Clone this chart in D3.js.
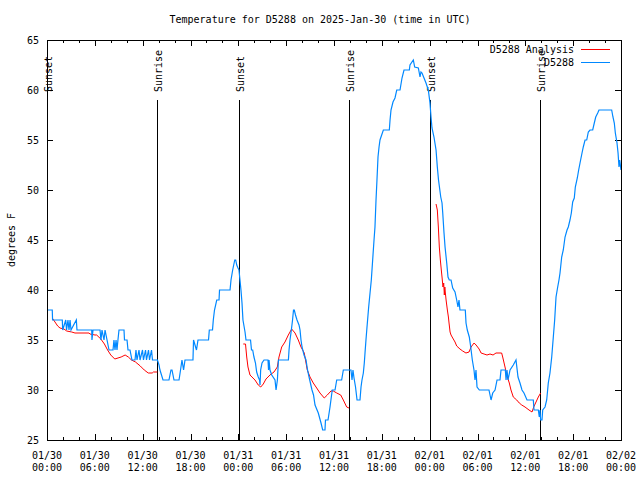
<!DOCTYPE html>
<html>
<head>
<meta charset="utf-8">
<script src="https://cdn.jsdelivr.net/npm/d3@7"></script>
<style>
  html, body { margin: 0; padding: 0; background: #fff; }
  svg { display: block; }
  text { font-family: "DejaVu Sans Mono", monospace; font-size: 10px; fill: #000; }
</style>
</head>
<body>
<svg id="chart" width="640" height="480"></svg>
<script>
// ---------------- DATA ----------------
const chartTitle = "Temperature for D5288 on 2025-Jan-30 (time in UTC)";
const yAxisLabel = "degrees F";
const startDateUTC = [2025, 0, 30];           // 2025-01-30 00:00 UTC
const spanHours = 72;
const yTickValues = [25, 30, 35, 40, 45, 50, 55, 60, 65];
const seriesNames = ["D5288 Analysis", "D5288"];
const seriesColors = ["#ff0000", "#0088ff"];

// sunrise / sunset markers (hours since start)
const sunEventHours = [0.0, 13.84, 24.07, 37.92, 48.08, 61.9];
const sunEventLabels = ["Sunset", "Sunrise", "Sunset", "Sunrise", "Sunset", "Sunrise"];

// Station observations D5288 (hours since start, °F)
const stationHours = [
  0, 0.66, 0.7, 1.92, 1.97, 2.35, 2.45, 2.63, 2.76, 2.89, 3.01, 3.68, 3.76, 5.61, 5.64, 5.77,
  6.65, 6.77, 6.9, 7.15, 7.28, 7.53, 7.78, 8.28, 8.4, 8.53, 8.66, 8.78, 8.9, 9.03, 9.66, 9.72,
  10.04, 10.16, 10.41, 10.66, 11.04, 11.16, 11.29, 11.54, 11.67, 11.98, 12.1, 12.36, 12.48,
  12.73, 12.86, 13.11, 13.23, 13.86, 14.05, 14.17, 14.55, 15.3, 15.55, 15.68, 15.93, 16.56,
  16.75, 16.93, 17.13, 17.31, 18.31, 18.38, 18.75, 18.94, 20.26, 20.36, 20.76, 20.86, 21.01,
  21.29, 21.58, 21.64, 22.96, 23.08, 23.29, 23.55, 23.67, 23.8, 23.96, 24.08, 24.33, 24.46,
  24.58, 24.84, 24.96, 25.53, 25.65, 25.8, 25.96, 26.15, 26.3, 26.5, 26.66, 26.72, 26.8, 26.97,
  27.22, 27.72, 27.79, 27.85, 27.97, 28.19, 28.6, 28.73, 28.9, 29.03, 30.28, 30.36, 30.48,
  30.65, 30.8, 30.92, 31.02, 31.17, 31.36, 31.61, 31.74, 31.86, 31.99, 32.24, 32.49, 32.68,
  32.87, 33.24, 33.43, 33.62, 34.03, 34.37, 34.58, 34.87, 34.93, 35.25, 35.5, 35.78, 36.13,
  36.34, 36.96, 37.17, 38.13, 38.26, 38.38, 38.51, 38.7, 38.89, 39.26, 39.39, 39.51, 39.68,
  39.8, 39.89, 40.01, 40.14, 40.35, 40.52, 40.68, 40.85, 41.02, 41.14, 41.27, 41.39, 41.52,
  41.65, 41.77, 41.98, 42.19, 42.94, 43.03, 43.15, 43.4, 43.65, 43.87, 44.28, 44.53, 44.78,
  45.45, 45.53, 45.95, 46.12, 46.58, 46.79, 46.91, 47.04, 47.29, 47.54, 47.83, 48.04, 48.17,
  48.29, 48.54, 48.8, 48.96, 49.11, 49.39, 49.55, 49.64, 49.8, 49.93, 50.14, 50.3, 50.46,
  50.68, 50.89, 51.18, 51.39, 51.55, 51.68, 51.8, 52.47, 52.56, 52.72, 52.97, 53.15, 53.35,
  53.56, 53.69, 53.81, 53.94, 54.23, 55.44, 55.7, 55.91, 56.2, 56.45, 56.82, 56.95, 57.49,
  57.58, 57.7, 57.83, 58.08, 58.49, 58.83, 59.08, 59.33, 59.58, 59.83, 60.21, 61.0, 61.09,
  61.63, 61.75, 61.84, 61.92, 62.09, 62.18, 62.47, 62.68, 62.88, 63.09, 63.31, 63.51, 63.68,
  63.85, 64.06, 64.22, 64.35, 64.56, 64.76, 64.98, 65.23, 65.39, 65.6, 65.77, 65.94, 66.14,
  66.27, 66.52, 66.69, 66.86, 67.11, 67.27, 67.49, 67.7, 67.9, 68.11, 68.45, 68.65, 68.83,
  69.08, 69.24, 70.83, 70.99, 71.16, 71.29, 71.5, 71.63, 71.75, 71.84, 72
];
const stationTemps = [
  38, 38, 37, 37, 36, 37, 36, 37, 36, 37, 36, 37, 36, 36, 35, 36,
  36, 35, 36, 35, 36, 35, 34, 34, 35, 34, 35, 34, 35, 36, 36, 35,
  35, 34, 34, 33, 33, 34, 33, 34, 33, 34, 33, 34, 33,
  34, 33, 34, 33, 33, 32.5, 32, 31, 31, 32, 32, 31, 31,
  32, 33, 32, 33, 33, 35, 34, 35, 35, 36, 36, 37, 38,
  39, 39, 40, 40, 41, 42, 43, 43, 42.5, 42.2, 42, 40, 38.7,
  37, 35.8, 35, 35, 34, 34, 33.3, 32.7, 31.8, 31.3, 31, 30.5, 32, 32.7,
  33, 33, 32, 33, 32, 31.5, 31, 30, 31, 33, 33, 34, 35,
  36, 37, 38, 38, 37.5, 37, 36.5, 36, 35, 34.3, 33.5, 33, 32,
  31.3, 30, 29.5, 28.5, 27.7, 26.7, 26, 26, 27, 27, 28.3, 30, 30,
  31, 31, 32, 32, 31, 32, 31.2, 30.3, 29, 29, 30.3, 31, 31.7,
  32.7, 33.7, 35, 36.3, 38.3, 39.7, 41, 43, 45, 46.3, 49, 51, 53.3,
  54.3, 55, 55.5, 56, 56, 57, 58, 58.8, 59.2, 60, 60, 61.2, 62,
  62, 62.5, 63, 62.3, 62.2, 61.3, 61.8, 61.7, 61.2, 60.7, 60, 58.7, 57.3,
  56.2, 55.3, 54, 52.3, 51, 49.3, 48.7, 47.7, 45.7, 44.3, 42.7, 41.3, 41,
  41, 40.2, 39.8, 39, 38.3, 39, 38, 38, 36.7, 36, 35.3, 34.3, 33,
  32, 31, 32, 30.3, 30, 30, 29, 29.7, 30, 31, 31, 32, 32,
  31, 32, 31, 32, 32.5, 33, 31.3, 30.7, 30, 29.7, 29, 29, 28,
  28, 27.3, 28, 27, 27, 28, 28.3, 29, 30.7, 31.7, 33.3, 35.3, 37,
  39.3, 40.3, 41, 41.7, 43.3, 44, 45.3, 46, 46.3, 47, 47.7, 48.8, 49.2,
  50.3, 51.2, 52, 52.7, 53.7, 54.3, 55, 55, 55.8, 56, 56, 56.7, 57.3,
  57.7, 58, 58, 57.3, 56.7, 55.7, 54.7, 53.7, 52.3, 53, 52
];

// Analysis D5288 (hours since start, °F); null = gap between segments
const analysisHours = [
  0.66, 1.0, 1.34, 1.63, 2.13, 2.47, 3.1, 3.51, 5.27, 5.39, 6.02, 6.23, 6.75, 7.2, 7.6, 8.0,
  8.5, 9.3, 9.8, 10.2, 10.6, 11.1, 11.7, 12.2, 12.7, 13.2, 13.35, 13.84,
  null,
  24.62, 24.9, 25.05, 25.21, 25.46, 25.71, 26.09, 26.5, 26.81, 27.13, 27.47, 27.97, 28.47,
  28.89, 29.1, 29.44, 29.85, 30.27, 30.69, 31.11, 31.52, 31.86, 32.27, 32.65, 32.99, 33.4,
  33.83, 34.24, 34.78, 35.16, 35.62, 35.91, 36.34, 36.84, 37.17, 37.59, 37.88,
  null,
  48.8, 48.96, 49.09, 49.21, 49.34, 49.46, 49.55, 49.67, 49.76, 49.84, 49.9, 49.97, 50.06,
  50.22, 50.35, 50.43, 50.56, 50.68, 50.89, 51.18, 51.39, 51.8, 52.14, 52.55, 52.94, 53.19,
  53.57, 53.82, 54.2, 54.45, 54.82, 55.19, 55.57, 55.95, 56.32, 57.03, 57.16, 57.45, 57.74,
  57.99, 58.2, 58.49, 58.92, 59.24, 59.55, 59.96, 60.46, 60.84, 61.05, 61.34, 61.63, 61.92
];
const analysisTemps = [
  37.2, 36.8, 36.4, 36.2, 36.1, 35.9, 35.8, 35.7, 35.7, 35.6, 35.5, 35.5, 35.1, 34.6, 34, 33.5,
  33.1, 33.3, 33.5, 33.3, 33, 32.8, 32.4, 32, 31.7, 31.7, 31.8, 31.8,
  null,
  34.6, 34.6, 33.3, 32.3, 31.5, 31.3, 31, 30.5, 30.3, 30.6, 31.1, 31.5, 31.8,
  32.3, 33.3, 34.3, 34.8, 35.5, 36.1, 35.7, 35, 34.3, 33.7, 32, 31.3, 30.7,
  30.2, 29.7, 29.2, 29.5, 29.9, 29.9, 29.7, 29.5, 29, 28.3, 28.2,
  null,
  48.6, 48, 46.3, 44.3, 43, 42, 41.3, 40.3, 40.7, 39.5, 40.3, 39.7, 39,
  38, 37.3, 36.7, 35.8, 35.5, 35.2, 34.8, 34.4, 34.1, 33.9, 33.7, 33.8, 34.3,
  34.7, 34.5, 34.1, 33.7, 33.6, 33.5, 33.6, 33.5, 33.7, 33.7, 33.3, 32.3, 31.3,
  30.7, 30, 29.3, 29, 28.7, 28.5, 28.3, 28, 27.8, 28.3, 28.8, 29.3, 29.7
];

// ---------------- CHART ----------------
const W = 640, H = 480;
const margin = { left: 47, right: 19, top: 40, bottom: 40 };
const base = Date.UTC(...startDateUTC);
const toDate = h => new Date(base + h * 3600e3);

const x = d3.scaleUtc().domain([toDate(0), toDate(spanHours)]).range([margin.left, W - margin.right]);
const y = d3.scaleLinear().domain([25, 65]).range([H - margin.bottom, margin.top]);

const svg = d3.select("#chart");
const x0 = margin.left, x1 = W - margin.right, y0 = margin.top, y1 = H - margin.bottom;

// title
svg.append("text").attr("x", 320).attr("y", 23).attr("text-anchor", "middle").text(chartTitle);

// y-axis label
svg.append("text")
  .attr("transform", `translate(15,${(y0 + y1) / 2}) rotate(-90)`)
  .attr("text-anchor", "middle").text(yAxisLabel);

function styleAxis(g) {
  g.select(".domain").remove();
  g.selectAll("line").attr("stroke", "#000").attr("shape-rendering", "crispEdges");
  g.selectAll("text").attr("font-family", null).attr("font-size", null);
  g.attr("font-family", null).attr("font-size", null);
}

// x axes (major + minor, bottom and top)
const majorTicks = d3.utcHour.every(6);
const minorTicks = d3.utcHour.every(2);
svg.append("g").attr("transform", `translate(0,${y1})`)
  .call(d3.axisBottom(x).ticks(minorTicks).tickSize(-3).tickFormat("")).call(styleAxis);
svg.append("g").attr("transform", `translate(0,${y1})`)
  .call(d3.axisBottom(x).ticks(majorTicks).tickSize(-6).tickFormat("")).call(styleAxis);
svg.append("g").attr("transform", `translate(0,${y0})`)
  .call(d3.axisTop(x).ticks(minorTicks).tickSize(-3).tickFormat("")).call(styleAxis);
svg.append("g").attr("transform", `translate(0,${y0})`)
  .call(d3.axisTop(x).ticks(majorTicks).tickSize(-6).tickFormat("")).call(styleAxis);

// two-line x tick labels
const fmtDate = d3.utcFormat("%m/%d"), fmtTime = d3.utcFormat("%H:%M");
const xLab = svg.append("g");
x.ticks(majorTicks).forEach(d => {
  const t = xLab.append("text").attr("text-anchor", "middle");
  t.append("tspan").attr("x", x(d)).attr("y", 458.5).text(fmtDate(d));
  t.append("tspan").attr("x", x(d)).attr("y", 471).text(fmtTime(d));
});

// y axes
svg.append("g").attr("transform", `translate(${x0},0)`)
  .call(d3.axisLeft(y).tickValues(yTickValues).tickSize(-6).tickPadding(8)).call(styleAxis)
  .selectAll("text").attr("dy", "0.35em");
svg.append("g").attr("transform", `translate(${x1},0)`)
  .call(d3.axisRight(y).tickValues(yTickValues).tickSize(-6).tickFormat("")).call(styleAxis);

// sunrise / sunset
const sunG = svg.append("g");
sunEventHours.forEach((h, i) => {
  const xp = Math.round(x(toDate(h))) + 0.5;
  sunG.append("line").attr("x1", xp).attr("x2", xp)
    .attr("y1", y1 - 0.85 * (y1 - y0)).attr("y2", y1)
    .attr("stroke", "#000").attr("stroke-width", 1).attr("shape-rendering", "crispEdges");
  sunG.append("text")
    .attr("transform", `translate(${xp + 4.5},${y1 - 0.87 * (y1 - y0)}) rotate(-90)`)
    .attr("text-anchor", "start").text(sunEventLabels[i]);
});

// data lines
const line = d3.line()
  .defined(d => d[0] != null && d[1] != null)
  .x(d => x(toDate(d[0]))).y(d => y(d[1]));

const clip = svg.append("clipPath").attr("id", "clip")
  .append("rect").attr("x", x0).attr("y", y0).attr("width", x1 - x0).attr("height", y1 - y0);

const analysisData = analysisHours.map((h, i) => [h, analysisTemps[i]]);
const stationData = stationHours.map((h, i) => [h, stationTemps[i]]);

svg.append("path").datum(analysisData).attr("d", line)
  .attr("fill", "none").attr("stroke", seriesColors[0]).attr("stroke-width", 1)
  .attr("clip-path", "url(#clip)");
svg.append("path").datum(stationData).attr("d", line)
  .attr("fill", "none").attr("stroke", seriesColors[1]).attr("stroke-width", 1.2)
  .attr("clip-path", "url(#clip)");

// frame
svg.append("rect").attr("x", x0 + 0.5).attr("y", y0 + 0.5)
  .attr("width", x1 - x0).attr("height", y1 - y0)
  .attr("fill", "none").attr("stroke", "#000").attr("shape-rendering", "crispEdges");

// legend
const leg = svg.append("g");
seriesNames.forEach((name, i) => {
  const ly = 49.5 + i * 13;
  leg.append("text").attr("x", 574).attr("y", ly).attr("dy", "0.35em")
    .attr("text-anchor", "end").text(name);
  leg.append("line").attr("x1", 581).attr("x2", 610).attr("y1", ly).attr("y2", ly)
    .attr("stroke", seriesColors[i]).attr("stroke-width", 1).attr("shape-rendering", "crispEdges");
});
</script>
</body>
</html>
